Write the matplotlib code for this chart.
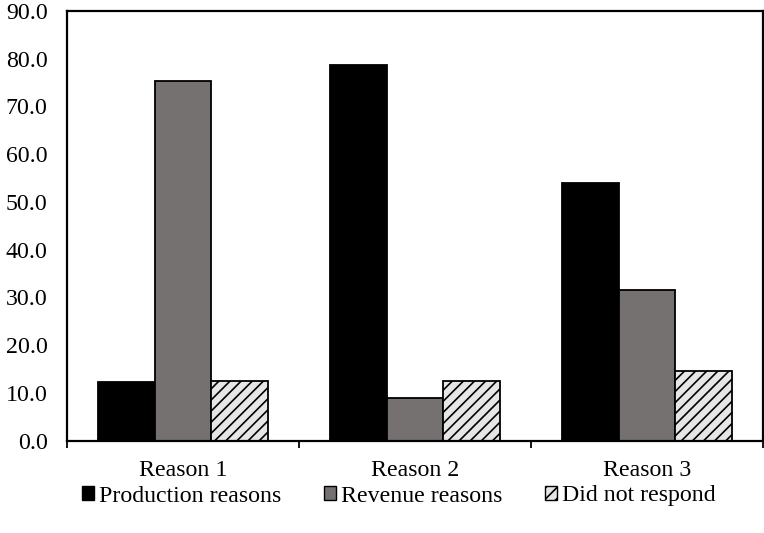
import matplotlib
matplotlib.use("Agg")
import matplotlib.pyplot as plt
import numpy as np
from matplotlib.patches import Patch

plt.rcParams['font.family'] = ['Liberation Serif', 'DejaVu Serif']
plt.rcParams['hatch.linewidth'] = 1.2
plt.rcParams['hatch.color'] = 'black'

categories = ["Reason 1", "Reason 2", "Reason 3"]
series_names = ["Production reasons", "Revenue reasons", "Did not respond"]
production = [12.3, 78.7, 53.9]
revenue = [75.4, 9.0, 31.6]
no_response = [12.4, 12.5, 14.6]
y_ticks = [0, 10, 20, 30, 40, 50, 60, 70, 80, 90]

fig = plt.figure(figsize=(7.64, 5.33), dpi=100)
ax = fig.add_axes([67/764, 1-440.6/533, (763-67)/764, (440.6-11)/533])

x = np.arange(len(categories))
w = 0.245
styles = [
    dict(color='black', edgecolor='black'),
    dict(color='#767171', edgecolor='black'),
    dict(color='#e7e6e6', edgecolor='black', hatch='///'),
]
for i, (vals, st) in enumerate(zip([production, revenue, no_response], styles)):
    ax.bar(x + (i-1)*w, vals, w, linewidth=1.3, label=series_names[i], **st)

fs = 17.2
ax.set_xlim(-0.5, 2.5)
ax.set_ylim(0, 90)
ax.set_yticks(y_ticks)
ax.set_yticklabels([f"{v:.1f}" for v in y_ticks], fontsize=fs)
ax.tick_params(axis='y', length=0, pad=14)
ax.set_xticks(x)
ax.set_xticklabels(categories, fontsize=fs)
ax.tick_params(axis='x', which='major', length=0, pad=14)
ax.set_xticks([-0.5, 0.5, 1.5, 2.5], minor=True)
ax.tick_params(axis='x', which='minor', length=5, width=1.3, direction='out')
for s in ax.spines.values():
    s.set_linewidth(1.6)

handles = [Patch(facecolor='black', edgecolor='black', linewidth=1.0),
           Patch(facecolor='#767171', edgecolor='black', linewidth=1.0),
           Patch(facecolor='#e7e6e6', edgecolor='black', hatch='///', linewidth=1.0)]
fig.legend(handles, series_names, loc='center', bbox_to_anchor=(0.522, 1-496/533),
           bbox_transform=fig.transFigure, ncol=3, frameon=False, fontsize=fs,
           handlelength=0.5, handleheight=0.5, handletextpad=0.2, columnspacing=1.8)

fig.savefig("out.png", dpi=100)
